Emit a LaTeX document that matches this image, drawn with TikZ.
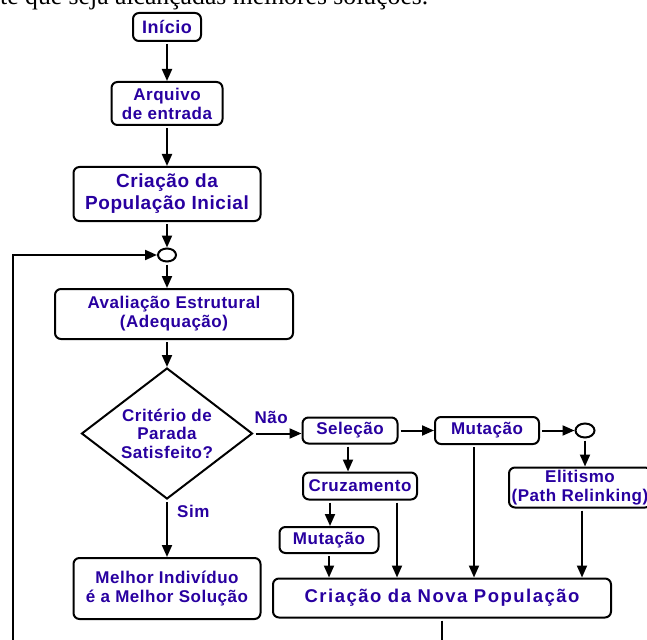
\documentclass[tikz,border=0pt]{standalone}
\usepackage{fontspec}
\setmainfont{Liberation Serif}
\newfontfamily\caixafonte{Liberation Sans}[LetterSpace=3]
\newfontfamily\largafonte{Liberation Sans}[LetterSpace=8]
\usetikzlibrary{positioning,shapes.geometric,arrows.meta}
\definecolor{anil}{RGB}{40,0,160}

\tikzset{
  caixa/.style={draw, rounded corners=6pt, line width=2pt, align=center,
    inner sep=0pt, text=anil, font=\caixafonte\bfseries\fontsize{17}{19}\selectfont},
  losango/.style={draw, diamond, aspect=1.3, line width=2pt, align=center,
    inner sep=0pt, text=anil, font=\caixafonte\bfseries\fontsize{17}{18.5}\selectfont},
  juncao/.style={draw, ellipse, line width=2pt, inner sep=0pt},
  seta/.style={line width=2pt, -{Triangle[length=12pt,width=10pt]}, shorten <=2pt},
  rotulo/.style={inner sep=0pt, text=anil, font=\caixafonte\bfseries\fontsize{17}{19}\selectfont}
}

\begin{document}
\begin{tikzpicture}[x=1pt, y=-1pt]
\useasboundingbox (0,0) rectangle (647,639);
\clip (0,0) rectangle (647,639);

% Text of the page above the figure
\node[anchor=base west, inner sep=0pt, font=\fontsize{25.7}{30}\selectfont] (frase) at (0,4.5)
  {te que seja alcançadas melhores soluções.};

% Define nodes

\node[caixa, minimum width=68pt, minimum height=28pt, font=\caixafonte\bfseries\fontsize{18}{19}\selectfont] (inicio) at (167,27) {Início};
\node[caixa, minimum width=111pt, minimum height=43pt, below=39pt of inicio] (arquivo) {Arquivo\\de entrada};
\node[caixa, minimum width=187pt, minimum height=54pt, below=40pt of arquivo, font=\caixafonte\bfseries\fontsize{19}{22}\selectfont] (popinicial) {Criação da\\População Inicial};
\node[juncao, minimum width=18pt, minimum height=13pt, below=25.5pt of popinicial] (circ) {};
\node[caixa, minimum width=238pt, minimum height=50pt, below=25.5pt of circ, xshift=7pt] (avalia) {Avaliação Estrutural\\(Adequação)};
\node[losango, minimum width=171pt, minimum height=131pt, below=27pt of avalia, xshift=-7pt] (criterio) {Critério de\\Parada\\Satisfeito?};
\node[caixa, minimum width=187pt, minimum height=61pt, below=57pt of criterio] (melhor) {Melhor Indivíduo\\é a Melhor Solução};

\node[caixa, minimum width=95pt, minimum height=26pt, right=48pt of criterio, yshift=3pt] (selecao) {Seleção};
\node[caixa, minimum width=104pt, minimum height=27pt, right=35.5pt of selecao] (mutacao) {Mutação};
\node[juncao, minimum width=19pt, minimum height=14pt, right=34.5pt of mutacao] (circb) {};
\node[caixa, minimum width=142pt, minimum height=40pt, below=28pt of circb, xshift=-5pt] (elitismo) {Elitismo\\(Path Relinking)};
\node[caixa, minimum width=114pt, minimum height=27pt, below=27pt of selecao, xshift=10pt] (cruzamento) {Cruzamento};
\node[caixa, minimum width=99pt, minimum height=26pt, below=25.5pt of cruzamento, xshift=-31pt] (mutacaob) {Mutação};
\node[caixa, minimum width=338pt, minimum height=39pt, below=23.5pt of mutacaob, xshift=113pt, font=\largafonte\bfseries\fontsize{18.5}{21}\selectfont] (novapop) {Criação da Nova População};

\node[rotulo, anchor=base west] (nao) at ([shift={(1pt,10pt)}]criterio.east) {Não};
\node[rotulo, anchor=base west] (sim) at ([shift={(10pt,-17.5pt)}]criterio.south) {Sim};

\coordinate (fundo) at (13,660);

% Connect the nodes
\draw[seta] (inicio) -- (arquivo);
\draw[seta] (arquivo) -- (popinicial);
\draw[seta] (popinicial) -- (circ);
\draw[seta] (circ) -- (circ |- avalia.north);
\draw[seta] (avalia.south -| criterio) -- (criterio.north);
\draw[seta] (criterio) -- (melhor);
\draw[seta] (criterio.east) -- (criterio.east -| selecao.west);
\draw[seta] (selecao) -- (mutacao);
\draw[seta] (mutacao) -- (circb);
\draw[seta] (circb.south) -- (circb.south |- elitismo.north);
\draw[seta] ([xshift=-2pt]selecao.south) -- ([xshift=-2pt]selecao.south |- cruzamento.north);
\draw[seta] ([xshift=-30pt]cruzamento.south) -- ([xshift=-30pt]cruzamento.south |- mutacaob.north);
\draw[seta] (mutacaob.south) -- (mutacaob.south |- novapop.north);
\draw[seta] ([xshift=37pt]cruzamento.south) -- ([xshift=37pt]cruzamento.south |- novapop.north);
\draw[seta] ([xshift=-13pt]mutacao.south) -- ([xshift=-13pt]mutacao.south |- novapop.north);
\draw[seta] ([xshift=2pt]elitismo.south) -- ([xshift=2pt]elitismo.south |- novapop.north);
\draw[seta] (novapop.south) |- (fundo) |- (circ.west);

\end{tikzpicture}
\end{document}
